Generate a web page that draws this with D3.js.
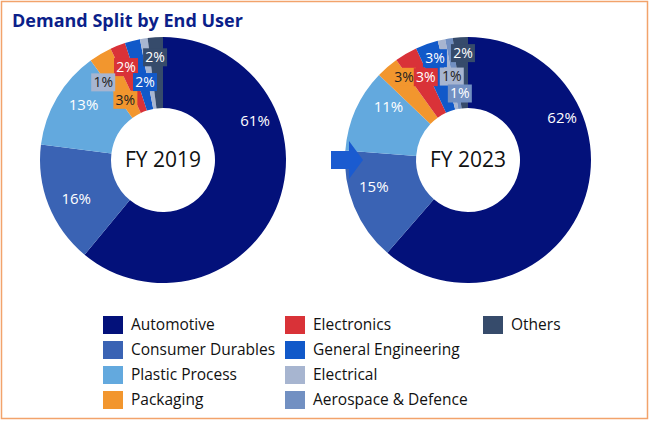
<!DOCTYPE html>
<html><head><meta charset="utf-8">
<script src="https://cdn.jsdelivr.net/npm/d3@7"></script>
<style>body{margin:0;background:#fff}</style>
</head><body>
<svg id="chart" width="650" height="421"></svg>
<script>
// categories and values
var categories = ["Automotive", "Consumer Durables", "Plastic Process", "Packaging", "Electronics",
  "General Engineering", "Electrical", "Aerospace & Defence", "Others"];
var colors = ["#03117a", "#3a63b4", "#63a9de", "#f2962e", "#d93238", "#1159c9", "#a7b5d0", "#7290c2", "#364b6b"];
var fy2019 = [61, 16, 13, 3, 2, 2, 1, 0, 2];
var fy2023 = [62, 15, 11, 3, 3, 3, 1, 1, 2];
// label placement [angle deg, radius] for each slice
var lab2019 = [[67, 100], [-114, 95], [-55, 97], [-32, 71], [-21.7, 100], [-13, 80], [-37.6, 98], null, [-4.4, 103]];
var lab2023 = [[66, 103], [-106, 98], [-56, 96], [-37.6, 105], [-27, 93], [-18, 107], [-11, 85], [-7, 67], [-2.7, 107]];

var svg = d3.select("#chart");
svg.append("rect").attr("x", 1.5).attr("y", 1.5).attr("width", 646).attr("height", 417)
  .attr("fill", "#fff").attr("stroke", "#f2a36b").attr("stroke-width", 1.5);
svg.append("text").attr("x", 12).attr("y", 27).text("Demand Split by End User")
  .attr("font-family", "Open Sans").attr("font-weight", "bold").attr("font-size", 18).attr("fill", "#0b1f8a");

var pie = d3.pie().sort(null).value(d => d);
var arc = d3.arc().innerRadius(52).outerRadius(123);

function donut(values, labels, cx, cy, title) {
  var g = svg.append("g").attr("transform", `translate(${cx},${cy})`);
  g.selectAll("path").data(pie(values)).join("path")
    .attr("d", arc).attr("fill", (d, i) => colors[i]);
  g.append("text").attr("text-anchor", "middle").attr("dy", "0.35em").text(title)
    .attr("font-family", "Open Sans").attr("font-size", 21).attr("fill", "#111");
  values.forEach((v, i) => {
    if (!v || !labels[i]) return;
    var a = labels[i][0] * Math.PI / 180, r = labels[i][1];
    var x = r * Math.sin(a), y = -r * Math.cos(a);
    var small = v <= 3;
    var fs = small ? 14 : 15;
    var w = small ? 24 : 30;
    if (small) {
      g.append("rect").attr("x", x - w / 2).attr("y", y - 9).attr("width", w).attr("height", 18)
        .attr("fill", colors[i]);
    }
    var dark = (i === 3 || i === 6);
    g.append("text").attr("x", x).attr("y", y).attr("dy", "0.35em").attr("text-anchor", "middle")
      .text(v + "%").attr("font-family", "Open Sans").attr("font-size", fs)
      .attr("fill", dark ? "#222" : "#fff");
  });
}
donut(fy2019, lab2019, 163, 160, "FY 2019");
donut(fy2023, lab2023, 468, 160, "FY 2023");

// arrow
svg.append("path").attr("d", "M331,151 L349,151 L349,141 L363,160 L349,179 L349,169 L331,169 Z")
  .attr("fill", "#1a5bd0");

// legend
var colX = [103, 285, 483];
categories.forEach((c, i) => {
  var col = Math.floor(i / 4), row = i % 4;
  if (i === 8) { col = 2; row = 0; }
  var x = colX[col], y = 325 + row * 25;
  svg.append("rect").attr("x", x).attr("y", y - 9).attr("width", 20).attr("height", 18).attr("fill", colors[i]);
  svg.append("text").attr("x", x + 28).attr("y", y).attr("dy", "0.35em").text(c)
    .attr("font-family", "Open Sans").attr("font-size", 15.5).attr("fill", "#111");
});
</script>
</body></html>
